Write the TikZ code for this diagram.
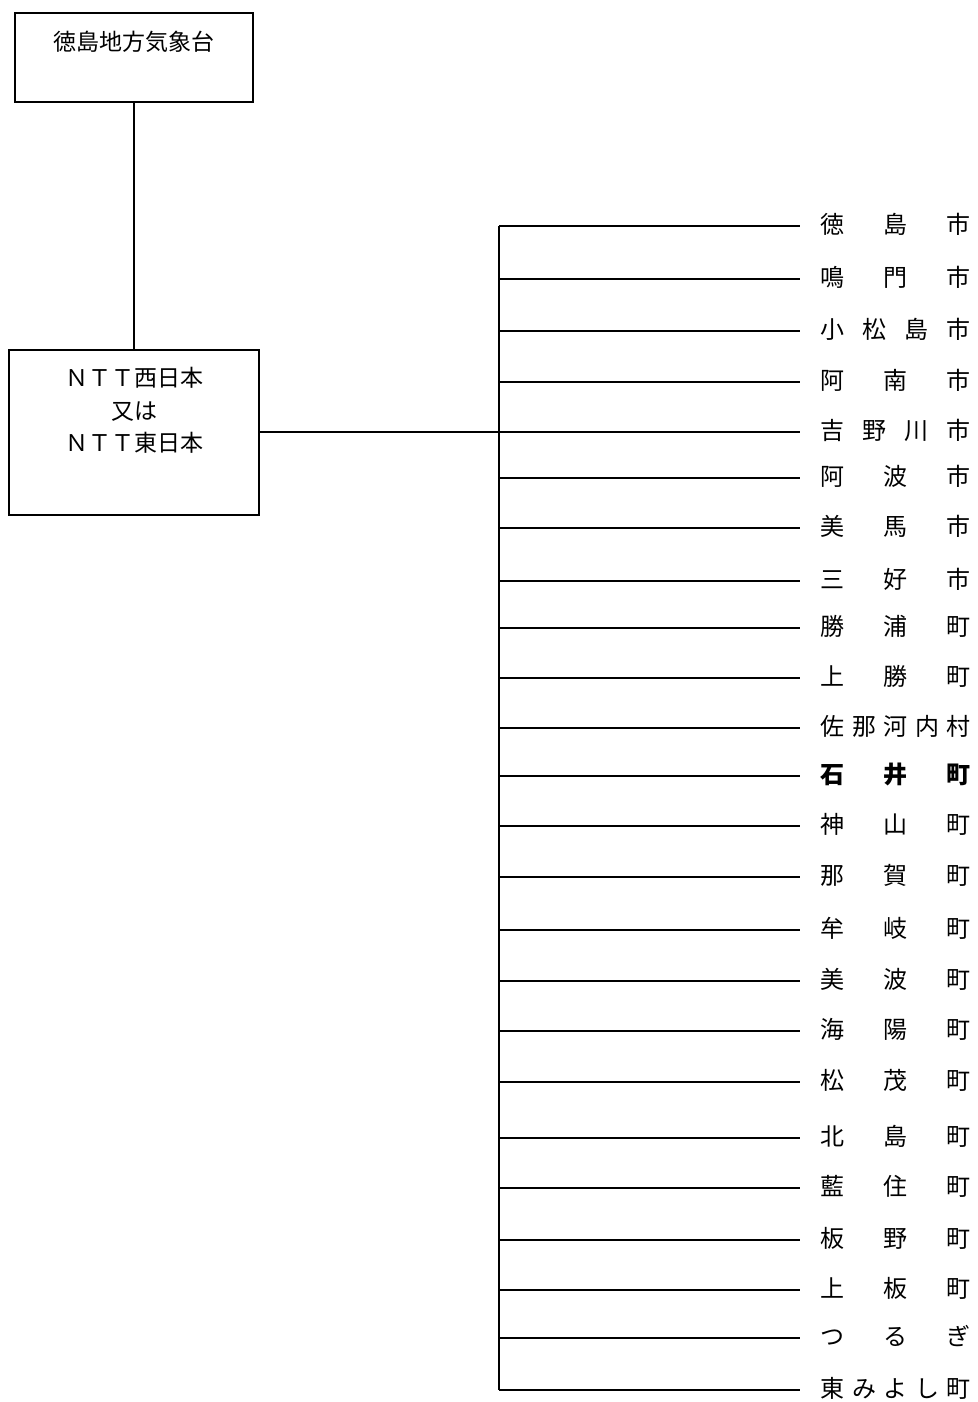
\documentclass[tikz,border=0pt]{standalone}
\usepackage{fontspec}
\setmainfont{Noto Sans CJK JP}
\begin{document}
\begin{tikzpicture}[x=1pt,y=-1pt,
  line width=1.1pt,
  box/.style={draw, line width=1.1pt, inner sep=0pt},
  boxtext/.style={font=\fontsize{23}{32}\selectfont, align=center, inner sep=0pt},
  place/.style={anchor=west, inner xsep=20pt, inner ysep=0pt,
    text height=1.5em, text depth=0.04em,
    font=\fontsize{24}{28}\selectfont}]
\useasboundingbox (0,0) rectangle (977,1402);

% top box
\node[box, minimum width=238pt, minimum height=89pt] (jma) at (134,57.5) {};
\node[boxtext] (jmat) at (134,42) {徳島地方気象台};

% NTT box
\node[box, minimum width=250pt, minimum height=165pt] (ntt) at (134,432.5) {};
\node[boxtext, font=\fontsize{23}{32.5}\selectfont] (nttt) at (134,410.5) {ＮＴＴ西日本\\又は\\ＮＴＴ東日本};

\draw (jma.south) -- (ntt.north);

% bus
\coordinate (btop) at (499,226);
\coordinate (bbot) at (499,1390);
\coordinate (bmid) at (499,432);
\draw (btop) -- (bbot);
\draw (ntt.east |- bmid) -- (bmid);

\newcommand{\threech}[3]{\makebox[150pt][s]{#1\hfill #2\hfill #3}}
\newcommand{\fourch}[4]{\makebox[150pt][s]{#1\hfill #2\hfill #3\hfill #4}}
\newcommand{\fivech}[5]{\makebox[150pt][s]{#1\hfill #2\hfill #3\hfill #4\hfill #5}}

\foreach \y/\lab [count=\i] in {
  226/{\threech{徳}{島}{市}},
  279/{\threech{鳴}{門}{市}},
  331/{\fourch{小}{松}{島}{市}},
  382/{\threech{阿}{南}{市}},
  432/{\fourch{吉}{野}{川}{市}},
  478/{\threech{阿}{波}{市}},
  528/{\threech{美}{馬}{市}},
  581/{\threech{三}{好}{市}},
  628/{\threech{勝}{浦}{町}},
  678/{\threech{上}{勝}{町}},
  728/{\fivech{佐}{那}{河}{内}{村}},
  776/{\bfseries\threech{石}{井}{町}},
  826/{\threech{神}{山}{町}},
  877/{\threech{那}{賀}{町}},
  930/{\threech{牟}{岐}{町}},
  981/{\threech{美}{波}{町}},
  1031/{\threech{海}{陽}{町}},
  1082/{\threech{松}{茂}{町}},
  1138/{\threech{北}{島}{町}},
  1188/{\threech{藍}{住}{町}},
  1240/{\threech{板}{野}{町}},
  1290/{\threech{上}{板}{町}},
  1338/{\threech{つ}{る}{ぎ}},
  1390/{\fivech{東}{み}{よ}{し}{町}}} {
  \coordinate (b\i) at (499,\y);
  \node[place] (l\i) at (800,\y) {\lab};
  \draw (b\i) -- (l\i.west);
}
\end{tikzpicture}
\end{document}
